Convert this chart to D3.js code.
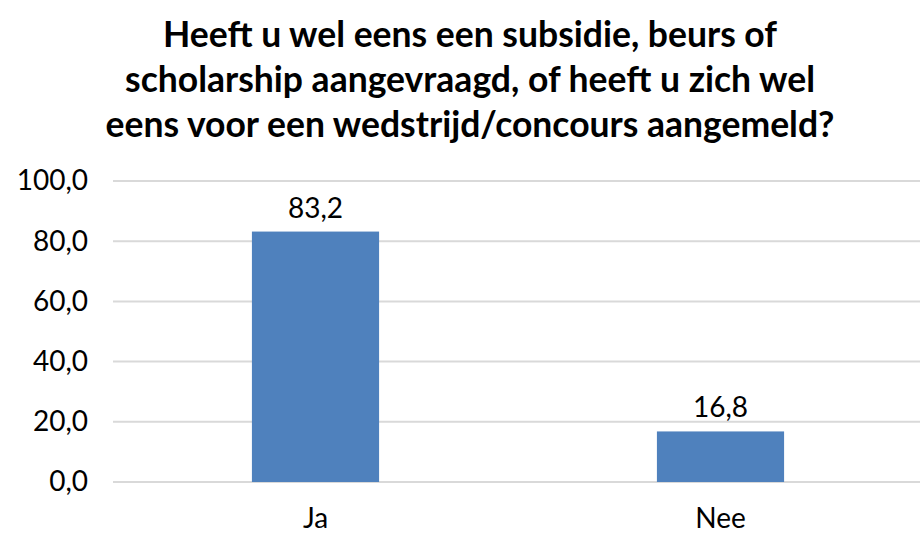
<!DOCTYPE html>
<html>
<head>
<meta charset="utf-8">
<script src="https://cdn.jsdelivr.net/npm/d3@7"></script>
<style>
  body { margin: 0; background: #fff; }
  svg { display: block; font-family: Lato, "Open Sans", sans-serif; }
</style>
</head>
<body>
<div id="chart"></div>
<script>
// data
var categories = ["Ja", "Nee"];
var values = [83.2, 16.8];
var yTicks = [0, 20, 40, 60, 80, 100];
var titleLines = [
  "Heeft u wel eens een subsidie, beurs of",
  "scholarship aangevraagd, of heeft u zich wel",
  "eens voor een wedstrijd/concours aangemeld?"
];

var W = 920, H = 534;
var margin = { top: 181, right: -3, bottom: 52, left: 113 },
  width = W - margin.left - margin.right,
  height = H - margin.top - margin.bottom;

var root = d3.select("#chart").append("svg")
  .attr("width", W)
  .attr("height", H);

// title
root.append("g").selectAll("text")
  .data(titleLines)
  .enter()
  .append("text")
  .attr("x", 470)
  .attr("y", function (d, i) { return 47 + i * 45; })
  .attr("text-anchor", "middle")
  .style("font-weight", "bold")
  .style("font-size", "35.5px")
  .style("fill", "#000")
  .text(function (d) { return d; });

var svg = root.append("g")
  .attr("transform", "translate(" + margin.left + "," + margin.top + ")");

var x = d3.scaleBand().domain(categories).range([0, width])
  .paddingInner(0.686).paddingOuter(0.343);
var y = d3.scaleLinear().domain([0, 100]).range([height, 0]);

// gridlines
svg.append("g").selectAll("line")
  .data(yTicks)
  .enter()
  .append("line")
  .attr("x1", 0)
  .attr("x2", width)
  .attr("y1", function (d) { return y(d); })
  .attr("y2", function (d) { return y(d); })
  .style("stroke", "#d9d9d9")
  .style("stroke-width", 2);

// y axis
var yAxis = svg.append("g")
  .call(d3.axisLeft(y).tickValues(yTicks).tickSize(0).tickPadding(25)
    .tickFormat(function (d) { return d3.format(".1f")(d).replace(".", ","); }));
yAxis.select(".domain").remove();
yAxis.selectAll("text").style("font-size", "28px").style("fill", "#000")
  .style("font-family", "Lato, sans-serif");

// bars
svg.append("g").selectAll("rect")
  .data(values)
  .enter()
  .append("rect")
  .attr("x", function (d, i) { return x(categories[i]); })
  .attr("y", function (d) { return y(d); })
  .attr("width", x.bandwidth())
  .attr("height", function (d) { return height - y(d); })
  .style("fill", "#4f81bd");

// value labels
svg.append("g").selectAll("text")
  .data(values)
  .enter()
  .append("text")
  .attr("x", function (d, i) { return x(categories[i]) + x.bandwidth() / 2; })
  .attr("y", function (d) { return y(d) - 14; })
  .attr("text-anchor", "middle")
  .style("font-size", "28px")
  .style("fill", "#000")
  .text(function (d) { return d3.format(".1f")(d).replace(".", ","); });

// x axis
var xAxis = svg.append("g")
  .attr("transform", "translate(0," + height + ")")
  .call(d3.axisBottom(x).tickSize(0).tickPadding(26));
xAxis.select(".domain").remove();
xAxis.selectAll("text").style("font-size", "28px").style("fill", "#000")
  .style("font-family", "Lato, sans-serif");
</script>
</body>
</html>
